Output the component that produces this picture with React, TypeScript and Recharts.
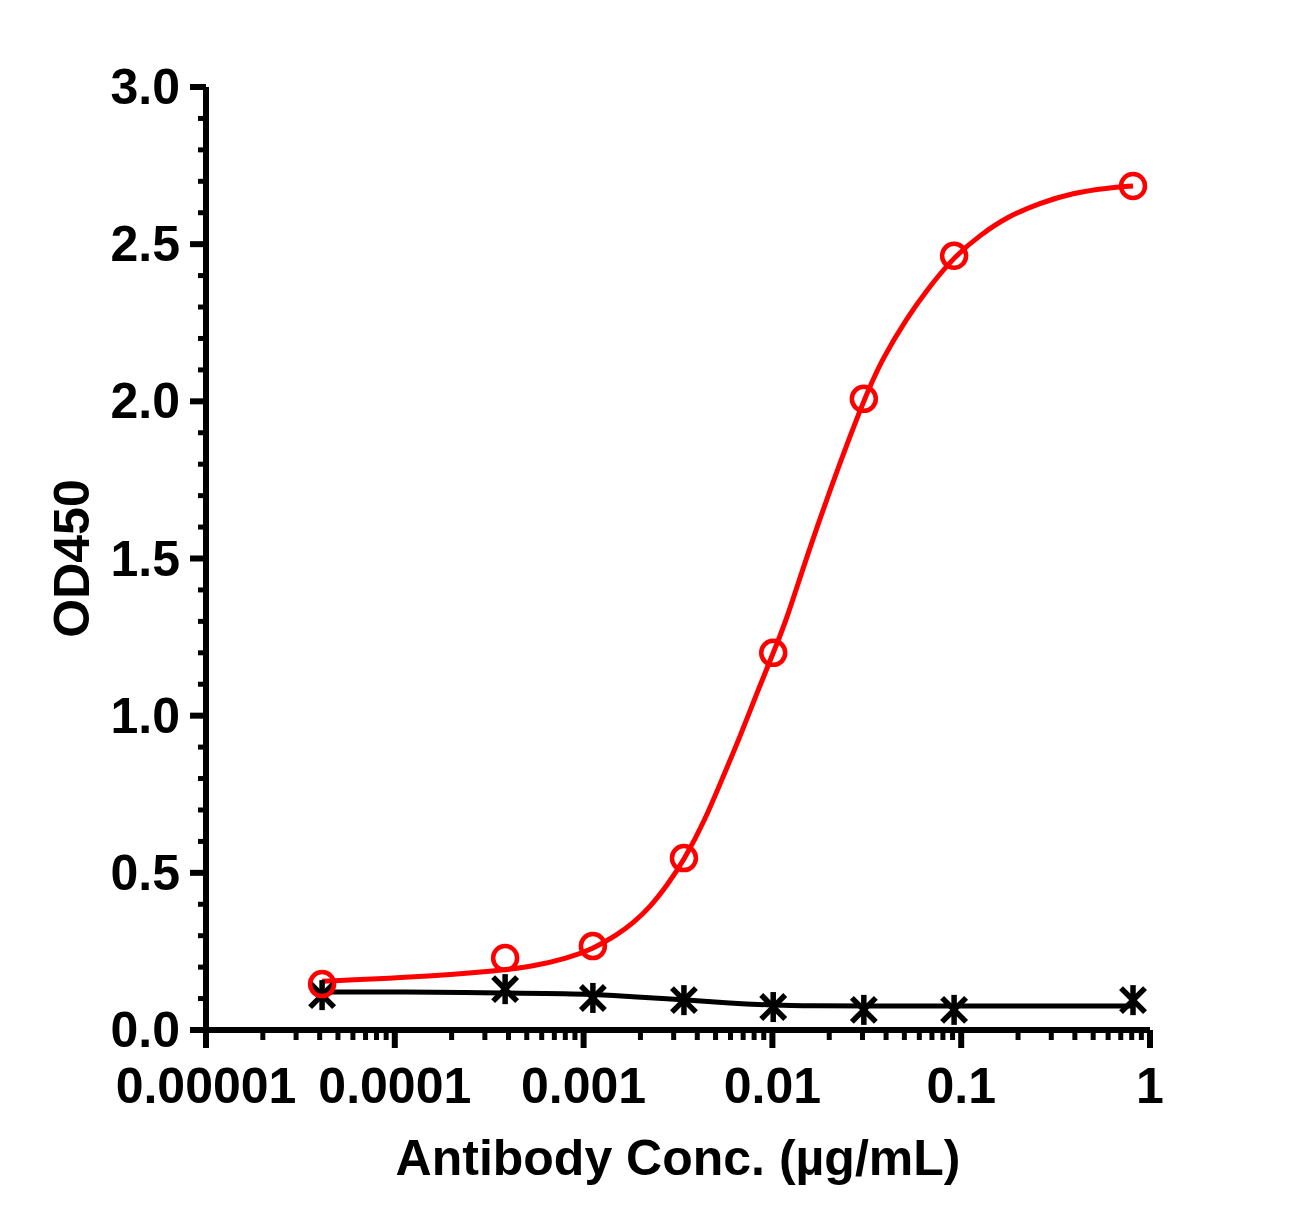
import { ComposedChart, Line, Scatter, XAxis, YAxis } from 'recharts';

// measured concentrations (µg/mL) and OD450 readings
const conc = [0.0000412, 0.000384, 0.00112, 0.0034, 0.0101, 0.0305, 0.0917, 0.813];
const odTarget = [0.146, 0.229, 0.267, 0.547, 1.2, 2.008, 2.463, 2.685];
const odControl = [0.111, 0.13, 0.102, 0.095, 0.073, 0.064, 0.064, 0.095];

// fitted curves
const fitTargetConc = [
  0.0000412, 0.000107, 0.000384, 0.00054, 0.000817, 0.00112, 0.0015, 0.00183, 0.00225, 0.00277, 0.0034,
  0.0044, 0.00547, 0.00673, 0.00828, 0.0101, 0.0119, 0.0164, 0.0305, 0.0386, 0.0516, 0.0659, 0.0917,
  0.126, 0.175, 0.261, 0.391, 0.591, 0.813,
];
const fitTarget = [
  0.155, 0.165, 0.19, 0.203, 0.228, 0.258, 0.302, 0.34, 0.391, 0.46, 0.54,
  0.668, 0.805, 0.932, 1.072, 1.2, 1.304, 1.57, 2.01, 2.14, 2.265, 2.355, 2.46,
  2.529, 2.587, 2.631, 2.663, 2.679, 2.685,
];
const fitControlConc = [0.0000412, 0.000107, 0.000384, 0.00112, 0.00176, 0.0034, 0.00596, 0.0101, 0.0164, 0.0305, 0.0917, 0.813];
const fitControl = [0.121, 0.121, 0.118, 0.115, 0.106, 0.097, 0.085, 0.079, 0.077, 0.076, 0.076, 0.076];

const xMajor = [0.00001, 0.0001, 0.001, 0.01, 0.1, 1];
const xLabels = ['0.00001', '0.0001', '0.001', '0.01', '0.1', '1'];
const yMajor = [0, 0.5, 1, 1.5, 2, 2.5, 3];

const xTicks = [
  ...xMajor.slice(0, -1).flatMap((d) => [1, 2, 3, 4, 5, 6, 7, 8, 9].map((m) => m * d)),
  1,
];
const yTicks = Array.from({ length: 31 }, (_, i) => i / 10);

const points = (xs: number[], ys: number[]) => xs.map((x, i) => ({ x, y: ys[i] }));

const FONT = '"Liberation Sans", Arial, Helvetica, sans-serif';

const XTick = (props: any) => {
  const { x, y, payload } = props;
  const idx = xMajor.findIndex((v) => Math.abs(v - payload.value) / v < 1e-9);
  const major = idx >= 0;
  return (
    <g>
      <line x1={x} x2={x} y1={y} y2={y + (major ? 18 : 10)} stroke="#000" strokeWidth={major ? 6 : 5} />
      {major && (
        <text x={x} y={y + 56} textAnchor="middle" dominantBaseline="central"
          fontFamily={FONT} fontWeight="bold" fontSize={50} fill="#000">
          {xLabels[idx]}
        </text>
      )}
    </g>
  );
};

const YTick = (props: any) => {
  const { x, y, payload } = props;
  const major = yMajor.some((v) => Math.abs(v - payload.value) < 1e-6);
  return (
    <g>
      <line x1={x - (major ? 16 : 8)} x2={x} y1={y} y2={y} stroke="#000" strokeWidth={major ? 6 : 5} />
      {major && (
        <text x={x - 26} y={y} textAnchor="end" dominantBaseline="central"
          fontFamily={FONT} fontWeight="bold" fontSize={50} fill="#000">
          {payload.value.toFixed(1)}
        </text>
      )}
    </g>
  );
};

const Ring = (props: any) => (
  <circle cx={props.cx} cy={props.cy} r={12} fill="none" stroke="#ff0000" strokeWidth={4.5} />
);

const Star = (props: any) => {
  const { cx, cy } = props;
  const a = 12;
  return (
    <g stroke="#000" strokeWidth={5.5}>
      <line x1={cx - a} y1={cy - a} x2={cx + a} y2={cy + a} />
      <line x1={cx - a} y1={cy + a} x2={cx + a} y2={cy - a} />
      <line x1={cx} y1={cy - 15} x2={cx} y2={cy + 15} />
    </g>
  );
};

export default function App() {
  return (
    <ComposedChart width={1280} height={1200} margin={{ top: 79, right: 138, bottom: 38, left: 48 }}>
      <XAxis
        dataKey="x"
        type="number"
        scale="log"
        domain={[0.00001, 1]}
        allowDataOverflow
        ticks={xTicks}
        interval={0}
        tickLine={false}
        tickSize={0}
        tickMargin={0}
        tick={<XTick />}
        height={140}
        axisLine={{ stroke: '#000', strokeWidth: 6 }}
        label={{
          content: (p: any) => {
            const vb = p.viewBox;
            return (
              <text x={vb.x + vb.width / 2} y={vb.y + 128} textAnchor="middle" dominantBaseline="central"
                fontFamily={FONT} fontWeight="bold" fontSize={50} fill="#000">
                Antibody Conc. (µg/mL)
              </text>
            );
          },
        }}
      />
      <YAxis
        type="number"
        domain={[0, 3]}
        allowDataOverflow
        ticks={yTicks}
        interval={0}
        tickLine={false}
        tickSize={0}
        tickMargin={0}
        tick={<YTick />}
        width={150}
        axisLine={{ stroke: '#000', strokeWidth: 6 }}
        label={{
          content: (p: any) => {
            const vb = p.viewBox;
            const cx = vb.x + 16;
            const cy = vb.y + vb.height / 2;
            return (
              <text x={cx} y={cy} textAnchor="middle" dominantBaseline="central"
                transform={`rotate(-90 ${cx} ${cy})`}
                fontFamily={FONT} fontWeight="bold" fontSize={50} fill="#000">
                OD450
              </text>
            );
          },
        }}
      />
      <Line data={points(fitControlConc, fitControl)} dataKey="y" type="basis" stroke="#000" strokeWidth={5}
        dot={false} activeDot={false} isAnimationActive={false} />
      <Scatter data={points(conc, odControl)} dataKey="y" shape={<Star />} isAnimationActive={false} />
      <Line data={points(fitTargetConc, fitTarget)} dataKey="y" type="basis" stroke="#ff0000" strokeWidth={5}
        dot={false} activeDot={false} isAnimationActive={false} />
      <Scatter data={points(conc, odTarget)} dataKey="y" shape={<Ring />} isAnimationActive={false} />
    </ComposedChart>
  );
}
